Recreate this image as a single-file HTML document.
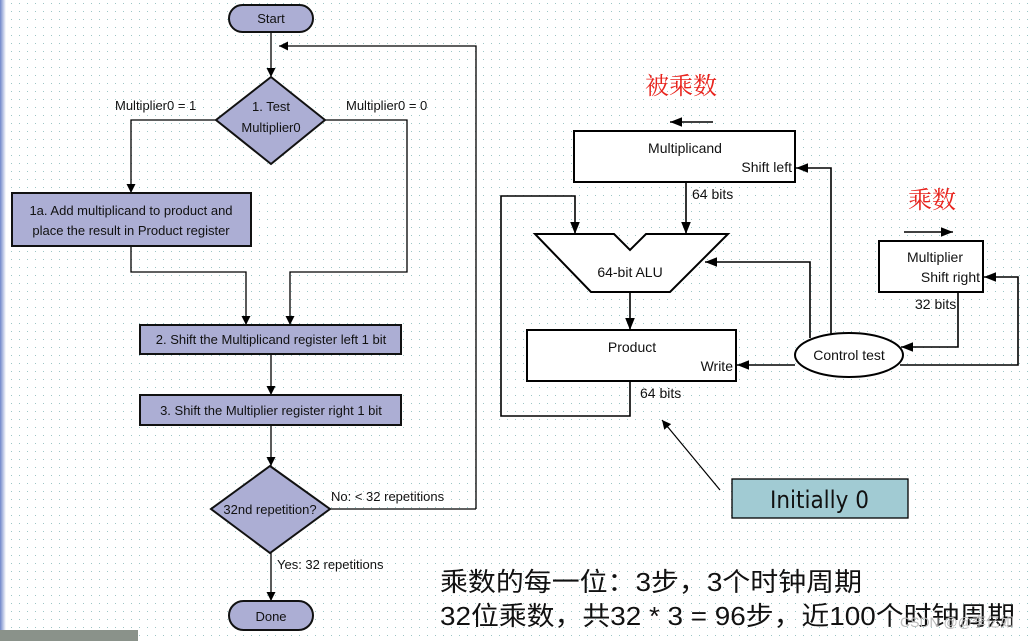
<!DOCTYPE html>
<html><head><meta charset="utf-8"><style>
html,body{margin:0;padding:0;background:#fff;}
svg{display:block;}
text{font-family:"Liberation Sans","Noto Sans CJK SC",sans-serif;fill:#111;}
</style></head><body>
<svg width="1034" height="641" viewBox="0 0 1034 641" xmlns="http://www.w3.org/2000/svg">
<defs>
<pattern id="dots" width="8" height="8" patternUnits="userSpaceOnUse"><rect x="3" y="3" width="1" height="1" fill="#9cc6c6"/></pattern>
<marker id="a" viewBox="0 0 10 10" refX="10" refY="5" markerWidth="9" markerHeight="9" markerUnits="userSpaceOnUse" orient="auto"><path d="M0,0 L10,5 L0,10 z" fill="#000"/></marker>
<marker id="b" viewBox="0 0 10 10" refX="10" refY="5" markerWidth="12" markerHeight="12" markerUnits="userSpaceOnUse" orient="auto"><path d="M0,1 L10,5 L0,9 z" fill="#000"/></marker>
<linearGradient id="lg" x1="0" x2="1"><stop offset="0" stop-color="#6f86c9"/><stop offset="1" stop-color="#fff"/></linearGradient>
</defs>
<rect width="1034" height="641" fill="#fff"/>
<rect width="1034" height="641" fill="url(#dots)"/>
<rect x="0" y="0" width="6" height="641" fill="url(#lg)"/>
<rect x="0" y="630" width="138" height="11" fill="#8a928a"/>

<g stroke="#000" stroke-width="1.3" fill="none">
<line x1="271" y1="32" x2="271" y2="77" marker-end="url(#a)"/>
<polyline points="476,509 476,46 279,46" marker-end="url(#a)"/>
<polyline points="216,120 131,120 131,193" marker-end="url(#a)"/>
<polyline points="325,120 407,120 407,272 290,272 290,325" marker-end="url(#a)"/>
<polyline points="131,246 131,272 246,272 246,325" marker-end="url(#a)"/>
<line x1="271" y1="354" x2="271" y2="395" marker-end="url(#a)"/>
<line x1="271" y1="425" x2="271" y2="466" marker-end="url(#a)"/>
<line x1="330" y1="509" x2="476" y2="509"/>
<line x1="271" y1="553" x2="271" y2="601" marker-end="url(#a)"/>
</g>
<g fill="#acaed4" stroke="#111" stroke-width="2">
<rect x="229" y="5" width="84" height="27" rx="13.5"/>
<polygon points="271,77 325,120 271,164 216,120"/>
<rect x="12" y="193" width="239" height="53"/>
<rect x="140" y="325" width="261" height="29"/>
<rect x="140" y="395" width="261" height="30"/>
<polygon points="270,466 330,509 270,553 211,509"/>
<rect x="229" y="601" width="84" height="29" rx="14.5"/>
</g>
<g font-size="13" text-anchor="middle">
<text x="271" y="23">Start</text>
<text x="271" y="111">1.  Test</text>
<text x="271" y="132">Multiplier0</text>
<text x="131" y="215">1a.  Add multiplicand to product and</text>
<text x="131" y="235">place the result in Product register</text>
<text x="271" y="344">2.  Shift the Multiplicand register left 1 bit</text>
<text x="271" y="415">3.  Shift the Multiplier register right 1 bit</text>
<text x="270" y="514">32nd repetition?</text>
<text x="271" y="621">Done</text>
</g>
<g font-size="13">
<text x="115" y="110">Multiplier0 = 1</text>
<text x="346" y="110">Multiplier0 = 0</text>
<text x="331" y="501">No: &lt; 32 repetitions</text>
<text x="277" y="569">Yes: 32 repetitions</text>
</g>

<text x="645" y="94" font-size="24" style="fill:#e8231d;font-family:'Noto Serif CJK SC',serif">被乘数</text>
<text x="908" y="208" font-size="24" style="fill:#e8231d;font-family:'Noto Serif CJK SC',serif">乘数</text>
<g stroke="#000" stroke-width="1.6" fill="none">
<line x1="713" y1="122" x2="670" y2="122" marker-end="url(#b)"/>
<line x1="904" y1="232" x2="953" y2="232" marker-end="url(#b)"/>
<line x1="686" y1="182" x2="686" y2="234" marker-end="url(#b)"/>
<polyline points="630,381 630,416 501,416 501,196 575,196 575,234" marker-end="url(#b)"/>
<line x1="630" y1="292" x2="630" y2="330" marker-end="url(#b)"/>
<polyline points="831,334 831,168 796,168" marker-end="url(#b)"/>
<polyline points="810,338 810,262 705,262" marker-end="url(#b)"/>
<line x1="795" y1="365" x2="737" y2="365" marker-end="url(#b)"/>
<polyline points="958,292 958,347 901,347" marker-end="url(#b)"/>
<polyline points="900,365 1018,365 1018,277 984,277" marker-end="url(#b)"/>
</g>
<line x1="720" y1="490" x2="662" y2="420" stroke="#000" stroke-width="1.2" marker-end="url(#a)"/>
<g fill="#fff" stroke="#000" stroke-width="2">
<rect x="574" y="131" width="221" height="51"/>
<polygon points="535,234 614,234 630,250 646,234 728,234 670,292 591,292"/>
<rect x="527" y="330" width="209" height="51"/>
<rect x="879" y="241" width="104" height="51"/>
<ellipse cx="849" cy="355" rx="54" ry="22"/>
</g>
<rect x="732" y="479" width="176" height="39" fill="#a1cbd3" stroke="#000" stroke-width="1.3"/>
<g font-size="14">
<text x="685" y="153" text-anchor="middle">Multiplicand</text>
<text x="792" y="172" text-anchor="end">Shift left</text>
<text x="692" y="199">64 bits</text>
<text x="630" y="277" text-anchor="middle">64-bit ALU</text>
<text x="632" y="352" text-anchor="middle">Product</text>
<text x="733" y="371" text-anchor="end">Write</text>
<text x="640" y="398">64 bits</text>
<text x="935" y="262" text-anchor="middle">Multiplier</text>
<text x="980" y="282" text-anchor="end">Shift right</text>
<text x="915" y="309">32 bits</text>
<text x="849" y="360" text-anchor="middle">Control test</text>
</g>
<text x="770" y="508" font-size="24" textLength="99" lengthAdjust="spacingAndGlyphs" style="font-family:'DejaVu Sans',sans-serif">Initially 0</text>
<text x="440" y="591" font-size="26" textLength="422" lengthAdjust="spacingAndGlyphs">乘数的每一位：3步，3个时钟周期</text>
<text x="440" y="625" font-size="26" textLength="575" lengthAdjust="spacingAndGlyphs">32位乘数，共32 * 3 = 96步，近100个时钟周期</text>
<text x="900" y="627" font-size="14" style="fill:#bbb">CSDN @@李亿如</text>
</svg>
</body></html>
